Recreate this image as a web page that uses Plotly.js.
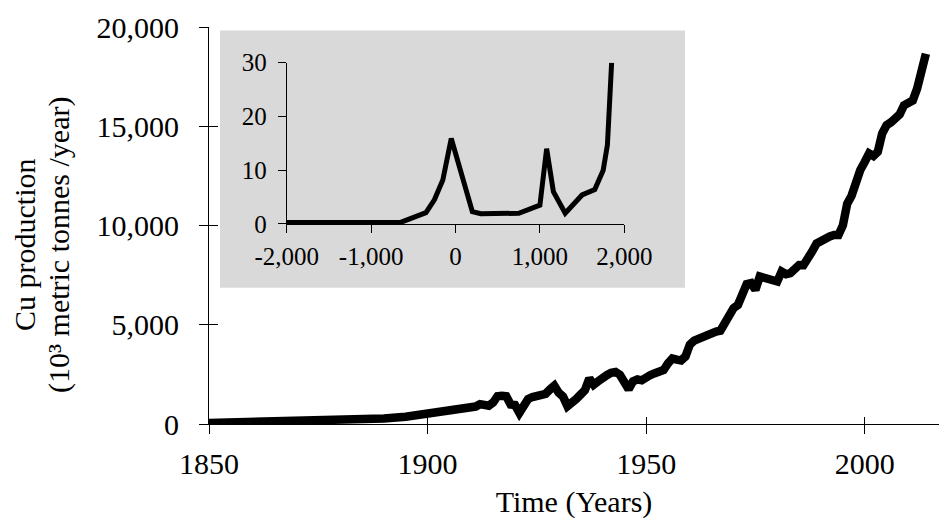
<!DOCTYPE html>
<html>
<head>
<meta charset="utf-8">
<script src="https://cdn.plot.ly/plotly-3.0.1.min.js"></script>
<style>html,body{margin:0;padding:0;background:#fff;}#chart{width:939px;height:521px;}</style>
</head>
<body>
<div id="chart"></div>
<script>
// Main series: world Cu production (10^3 t/yr)
const years = [1850,1855,1860,1865,1870,1875,1880,1885,1890,1895,
  1900,1901,1902,1903,1904,1905,1906,1907,1908,1909,
  1910,1911,1912,1913,1914,1915,1916,1917,1918,1919,
  1920,1921,1922,1923,1924,1925,1926,1927,1928,1929,
  1930,1931,1932,1933,1934,1935,1936,1937,1938,1939,
  1940,1941,1942,1943,1944,1945,1946,1947,1948,1949,
  1950,1951,1952,1953,1954,1955,1956,1957,1958,1959,
  1960,1961,1962,1963,1964,1965,1966,1967,1968,1969,
  1970,1971,1972,1973,1974,1975,1976,1977,1978,1979,
  1980,1981,1982,1983,1984,1985,1986,1987,1988,1989,
  1990,1991,1992,1993,1994,1995,1996,1997,1998,1999,
  2000,2001,2002,2003,2004,2005,2006,2007,2008,2009,
  2010,2011,2012,2013,2014];
const production = [50,70,90,100,110,130,150,210,280,370,
  520,540,560,600,660,700,720,720,750,830,
  860,880,1000,980,920,1080,1400,1420,1400,980,
  960,560,900,1260,1360,1420,1480,1520,1740,1930,
  1580,1380,900,1020,1260,1480,1700,2300,1980,2150,
  2360,2460,2580,2620,2480,2050,1750,2150,2250,2200,
  2400,2470,2560,2660,2720,3050,3300,3240,3200,3400,
  4000,4200,4300,4400,4450,4650,4660,4700,5100,5550,
  5840,6000,6600,7050,7100,6760,7430,7350,7300,7250,
  7180,7680,7550,7600,7800,8010,8000,8300,8700,9100,
  9250,9300,9450,9520,9520,10000,11100,11500,12300,12800,
  13200,13630,13500,13710,14630,15050,15200,15470,15600,16060,
  16200,16300,16900,18000,18650];

// Inset series: long-term Cu production (10^3 t/yr)
const insetYears = [-2000,-650,-350,-250,-150,-50,200,300,750,1000,1080,1160,1300,1500,1650,1750,1800,1850];
const insetProduction = [0.3,0.3,2.1,4.5,8.2,15.9,2.3,1.9,2.0,3.5,14.0,6.0,2.0,5.4,6.4,10.0,14.7,30];

// Tick labels
const mainXTicks = [1850,1900,1950,2000];
const mainXTickText = ['1850','1900','1950','2000'];
const mainYTicks = [0,5000,10000,15000,20000];
const mainYTickText = ['0','5,000','10,000','15,000','20,000'];
const insetXTicks = [-2000,-1000,0,1000,2000];
const insetXTickText = ['-2,000','-1,000','0','1,000','2,000'];
const insetYTicks = [0,10,20,30];
const insetYTickText = ['0','10','20','30'];

const xTitle = 'Time (Years)';
const yTitle1 = 'Cu production';
const yTitle2 = '(10³ metric tonnes /year)';

const FONT = 'Liberation Serif, Times New Roman, serif';
const mainRangeX = [1850, 2017];
const mainRangeY = [0, 20000];

const traces = [
  {x: years, y: production, type: 'scatter', mode: 'lines',
   line: {color: '#000', width: 8.5, shape: 'linear'}, xaxis: 'x', yaxis: 'y', hoverinfo: 'skip'},
  {x: insetYears, y: insetProduction, type: 'scatter', mode: 'lines',
   line: {color: '#000', width: 5}, xaxis: 'x2', yaxis: 'y2', hoverinfo: 'skip'},
  {x: [null], y: [null], type: 'scatter', mode: 'lines', xaxis: 'x3', yaxis: 'y3', hoverinfo: 'skip', showlegend: false}
];

const axisCommon = {showgrid: false, zeroline: false, showline: true, linecolor: '#000', linewidth: 1,
  tickcolor: '#000', tickwidth: 1, tickmode: 'array', fixedrange: true};

const layout = {
  width: 939, height: 521,
  margin: {l: 209, r: 0, t: 26.5, b: 96.5, pad: 0},
  paper_bgcolor: '#fff', plot_bgcolor: 'rgba(0,0,0,0)',
  showlegend: false,
  font: {family: FONT, color: '#000', size: 30},
  xaxis: Object.assign({}, axisCommon, {
    domain: [0, 1], range: mainRangeX, anchor: 'y',
    tickvals: mainXTicks, ticktext: mainXTickText, ticks: 'outside', ticklen: 9,
    tickfont: {family: FONT, size: 30, color: '#000'}, ticklabelstandoff: 4,
    title: {text: xTitle, font: {family: FONT, size: 30, color: '#000'}, standoff: 11}
  }),
  yaxis: Object.assign({}, axisCommon, {
    domain: [0, 1], range: mainRangeY, anchor: 'x',
    tickvals: mainYTicks, ticktext: mainYTickText, ticks: 'outside', ticklen: 9,
    tickfont: {family: FONT, size: 30, color: '#000'}, ticklabelstandoff: 14
  }),
  xaxis3: Object.assign({}, axisCommon, {
    overlaying: 'x', anchor: 'y3', range: mainRangeX, showline: false,
    tickvals: mainXTicks, ticks: 'inside', ticklen: 7, showticklabels: false
  }),
  yaxis3: Object.assign({}, axisCommon, {
    overlaying: 'y', anchor: 'x3', range: mainRangeY, showline: false,
    tickvals: mainYTicks, ticks: 'inside', ticklen: 9, showticklabels: false
  }),
  xaxis2: Object.assign({}, axisCommon, {
    domain: [0.1064, 0.5689], range: [-2000, 2000], anchor: 'y2',
    tickvals: insetXTicks, ticktext: insetXTickText, ticks: 'outside', ticklen: 8,
    tickfont: {family: FONT, size: 25, color: '#000'}, ticklabelstandoff: 2
  }),
  yaxis2: Object.assign({}, axisCommon, {
    domain: [0.5038, 0.910], range: [0, 30], anchor: 'x2',
    tickvals: insetYTicks, ticktext: insetYTickText, ticks: 'outside', ticklen: 8,
    tickfont: {family: FONT, size: 25, color: '#000'}, ticklabelstandoff: 6
  }),
  shapes: [
    {type: 'rect', xref: 'paper', yref: 'paper', x0: 0.0151, x1: 0.652, y0: 0.343, y1: 0.991,
     fillcolor: '#d9d9d9', line: {width: 0}, layer: 'below'}
  ],
  annotations: [
    {text: yTitle1, xref: 'paper', yref: 'paper', x: -0.252, y: 0.451, xanchor: 'center', yanchor: 'middle',
     textangle: -90, showarrow: false, font: {family: FONT, size: 30, color: '#000'}},
    {text: yTitle2, xref: 'paper', yref: 'paper', x: -0.2055, y: 0.451, xanchor: 'center', yanchor: 'middle',
     textangle: -90, showarrow: false, font: {family: FONT, size: 30, color: '#000'}}
  ]
};

Plotly.newPlot('chart', traces, layout, {staticPlot: true, displayModeBar: false});
</script>
</body>
</html>
